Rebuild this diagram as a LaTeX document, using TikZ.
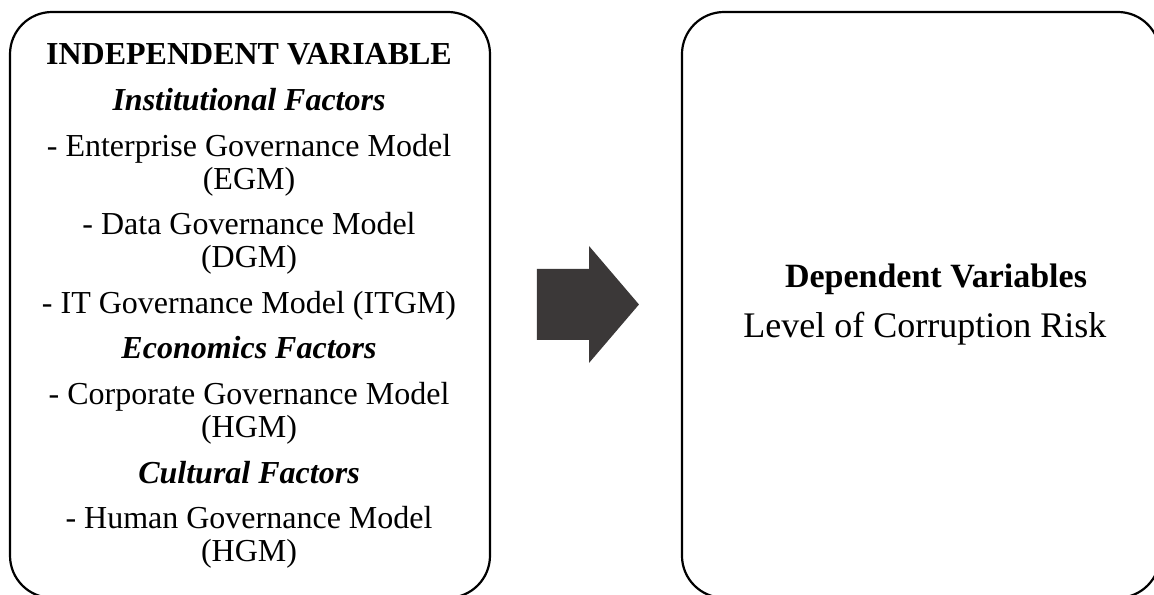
\documentclass[tikz,border=0pt]{standalone}
\usepackage{fontspec}
\setmainfont{Liberation Serif}

\tikzset{
    varbox/.style={draw, line width=1.1pt, rounded corners=0.74cm},
    lft/.style={anchor=base, inner sep=0pt, font=\fontsize{16}{19}\selectfont},
    rgt/.style={anchor=base, inner sep=0pt, font=\fontsize{18}{21}\selectfont},
}
\definecolor{arrowgray}{HTML}{3B3838}

\begin{document}
\begin{tikzpicture}
    \useasboundingbox (0,0) rectangle (20.28,10.456);
    \clip (0,0) rectangle (20.28,10.456);

    \begin{scope}
        \draw[varbox] (0.176,-0.05) rectangle (8.611,10.245);
        \node[lft] (iv) at (4.376,9.314) {\textbf{INDEPENDENT VARIABLE}};
        \node[lft] (inst) at (4.376,8.512) {\textbf{\textit{Institutional Factors}}};
        \node[lft] (egm) at (4.376,7.711) {- Enterprise Governance Model};
        \node[lft] (egm') at (4.376,7.131) {(EGM)};
        \node[lft] (dgm) at (4.376,6.330) {- Data Governance Model};
        \node[lft] (dgm') at (4.376,5.750) {(DGM)};
        \node[lft] (itgm) at (4.376,4.949) {- IT Governance Model (ITGM)};
        \node[lft] (econ) at (4.376,4.147) {\textbf{\textit{Economics Factors}}};
        \node[lft] (cgm) at (4.376,3.346) {- Corporate Governance Model};
        \node[lft] (cgm') at (4.376,2.766) {(HGM)};
        \node[lft] (cult) at (4.376,1.965) {\textbf{\textit{Cultural Factors}}};
        \node[lft] (hgm) at (4.376,1.163) {- Human Governance Model};
        \node[lft] (hgm') at (4.376,0.583) {(HGM)};
    \end{scope}

    \fill[arrowgray] (9.437,5.729) -- (10.351,5.729) -- (10.351,6.133) -- (11.229,5.105)
        -- (10.351,4.077) -- (10.351,4.481) -- (9.437,4.481) -- cycle;

    \begin{scope}
        \draw[varbox] (11.985,-0.05) rectangle (20.385,10.245);
        \node[rgt, font=\fontsize{17}{20}\selectfont] (dv) at (16.449,5.395) {\textbf{Dependent Variables}};
        \node[rgt] (risk) at (16.255,4.516) {Level of Corruption Risk};
    \end{scope}
\end{tikzpicture}
\end{document}
